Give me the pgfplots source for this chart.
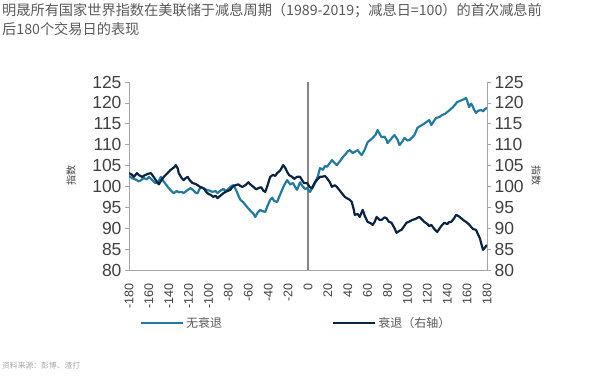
\documentclass[border=0pt]{standalone}
\usepackage{pgfplots}
\pgfplotsset{compat=1.18}
\usepackage{fontspec}
\setmainfont{Liberation Sans}
\newfontfamily\cjk{Noto Sans CJK SC}
\definecolor{lightser}{HTML}{27799B}
\definecolor{darkser}{HTML}{0C2340}
\definecolor{axgray}{HTML}{A6A6A6}
\definecolor{txtgray}{HTML}{404040}
\definecolor{ttlgray}{HTML}{595959}
\begin{document}
\begin{tikzpicture}
\useasboundingbox (0,0) rectangle (600bp,379bp);
\node[anchor=north west, inner sep=0pt, text=ttlgray, align=left, font=\cjk\fontsize{14.2bp}{19bp}\selectfont] at (2bp,376bp)
{明晟所有国家世界指数在美联储于减息周期（1989-2019；减息日=100）的首次减息前\\后180个交易日的表现};
\node[anchor=west, inner sep=0pt, text=gray!70, font=\cjk\fontsize{7.8bp}{9bp}\selectfont] at (2bp,13bp) {资料来源：彭博、渣打};
\pgfplotsset{
  common/.style={
    at={(129bp,109bp)}, anchor=south west,
    scale only axis, width=358bp, height=188bp,
    xmin=-180, xmax=180, ymin=80, ymax=125,
    ytick={80,85,...,125},
    tick align=outside,
    major tick length=4bp,
    every tick/.style={axgray, line width=0.6pt},
    axis line style={axgray, line width=0.8pt},
    /pgf/number format/assume math mode=true,
    yticklabel style={font=\fontsize{17.5bp}{18bp}\selectfont, text=txtgray},
    ylabel style={font=\cjk\fontsize{10bp}{11bp}\selectfont, text=txtgray},
  }
}
\begin{axis}[common,
  axis y line*=left, axis x line*=bottom,
  xtick={-180,-160,...,180},
  x tick style={draw=none},
  xticklabel style={rotate=90, anchor=east, font=\fontsize{12.5bp}{13bp}\selectfont, text=txtgray},
  xticklabel shift=6bp,
  ylabel={指数},
  ylabel style={at={(axis description cs:-0.162,0.5)}, anchor=center},
]
\addplot[color=gray!95, line width=1.6pt, forget plot] coordinates {(0,80) (0,125)};
\addplot[color=lightser, line width=2.2pt, line join=round] coordinates {
(-180,102.5) (-177,102.0) (-173,101.6) (-170,101.2) (-168,101.5) (-165,102.0) (-162,101.7) (-160,102.3)
(-157,101.6) (-154,100.9) (-151,100.8) (-148,102.3) (-146,101.5) (-143,100.5) (-140,99.6) (-137,98.8)
(-135,98.4) (-132,98.9) (-130,98.6) (-127,98.7) (-125,98.4) (-122,99.0) (-120,99.3) (-118,99.6)
(-115,99.0) (-113,98.5) (-111,98.4) (-108,99.9) (-105,99.5) (-102,99.2) (-99,99.0) (-96,98.7)
(-93,98.9) (-91,98.4) (-88,99.0) (-85,99.4) (-83,98.9) (-81,99.2) (-78,99.9) (-75,100.3)
(-72,99.0) (-70,97.8) (-68,96.8) (-65,96.2) (-63,95.6) (-61,95.0) (-58,94.2) (-55,93.5)
(-53,92.7) (-51,93.6) (-48,94.4) (-46,94.1) (-43,93.9) (-41,95.2) (-38,96.8) (-36,97.3)
(-34,96.5) (-31,96.3) (-29,97.5) (-26,99.2) (-24,100.3) (-21,101.5) (-18,100.5) (-15,100.8)
(-13,99.9) (-11,99.2) (-8,101.0) (-6,100.2) (-3,99.4) (-1,99.6) (2,98.7) (4,99.5)
(7,100.8) (10,102.5) (12,104.4) (15,104.0) (17,104.9) (19,104.7) (22,105.6) (24,106.3)
(26,105.8) (29,105.1) (32,106.0) (35,107.0) (38,107.8) (40,108.4) (42,108.7) (45,108.0)
(48,108.4) (50,108.7) (52,108.0) (54,107.5) (57,108.8) (60,110.6) (63,111.2) (65,111.6)
(68,112.4) (70,113.5) (72,112.6) (74,111.8) (77,111.9) (79,111.1) (80,110.4) (83,111.2)
(85,111.8) (87,112.3) (90,111.2) (92,109.9) (95,110.8) (97,111.6) (100,111.0) (102,111.1)
(105,111.8) (107,112.3) (110,114.0) (113,114.5) (116,114.9) (119,115.4) (122,115.9) (124,114.7)
(127,115.8) (129,116.4) (132,116.6) (135,117.1) (138,117.4) (140,117.8) (143,118.4) (145,118.8)
(148,119.6) (150,120.2) (153,120.5) (155,120.7) (157,120.9) (159,121.2) (160,120.5) (162,119.0)
(164,119.8) (165,119.5) (167,118.4) (169,117.6) (171,118.1) (174,118.3) (176,118.0) (178,118.5)
(180,118.8)
};
\end{axis}
\begin{axis}[common,
  axis y line*=right, axis x line=none,
  ylabel={指数},
  ylabel style={at={(axis description cs:1.137,0.5)}, anchor=center, rotate=180},
  legend columns=2,
  legend style={draw=none, fill=none, at={(0.03,-0.282)}, anchor=west,
    font=\cjk\fontsize{12bp}{13bp}\selectfont, text=ttlgray, inner sep=0pt,
    /tikz/every even column/.append style={column sep=108bp}},
  legend image code/.code={\draw[#1, line width=2.2pt] (0bp,0bp) -- (42bp,0bp);},
]
\addlegendimage{color=lightser}
\addlegendentry{无衰退}
\addplot[color=darkser, line width=2.2pt, line join=round] coordinates {
(-180,103.2) (-177,102.8) (-175,102.3) (-172,103.2) (-170,102.7) (-167,102.3) (-164,102.7) (-161,103.0)
(-158,103.2) (-155,102.2) (-153,101.5) (-150,100.5) (-148,101.3) (-145,102.3) (-142,103.0) (-140,103.5)
(-138,104.0) (-135,104.5) (-133,105.1) (-131,104.3) (-130,103.2) (-127,102.0) (-125,101.5) (-123,102.0)
(-121,102.3) (-119,101.5) (-116,100.8) (-113,100.6) (-111,100.3) (-108,99.8) (-105,99.6) (-102,98.6)
(-100,98.2) (-98,98.0) (-95,97.5) (-93,97.8) (-91,97.2) (-88,97.8) (-85,98.4) (-82,98.8)
(-80,99.0) (-78,99.2) (-76,99.9) (-73,100.3) (-70,100.5) (-68,100.1) (-66,99.9) (-63,100.3)
(-60,101.0) (-58,100.5) (-55,99.9) (-52,99.3) (-50,99.6) (-47,99.8) (-45,99.0) (-43,98.7)
(-41,100.0) (-38,102.3) (-35,102.8) (-33,102.5) (-31,103.2) (-28,103.8) (-25,105.1) (-23,104.5)
(-21,103.5) (-19,102.7) (-16,102.3) (-14,101.8) (-11,102.3) (-8,102.3) (-6,101.5) (-4,100.8)
(-1,100.8) (2,99.8) (4,99.6) (7,101.0) (10,101.8) (12,102.3) (14,102.3) (17,102.5)
(19,102.0) (22,101.0) (24,99.9) (27,100.3) (29,99.9) (32,99.0) (34,98.4) (37,97.5)
(39,97.2) (42,96.8) (44,96.3) (46,94.5) (47,93.2) (50,93.4) (52,92.7) (55,94.4)
(57,93.0) (60,91.5) (63,91.2) (65,90.8) (67,91.5) (69,92.7) (72,92.0) (74,92.0)
(77,92.6) (79,92.4) (81,91.6) (84,91.3) (87,90.0) (89,88.9) (92,89.4) (94,89.6)
(97,90.6) (99,91.3) (102,91.6) (105,92.0) (108,92.2) (110,92.5) (112,92.7) (115,92.0)
(117,91.5) (120,91.0) (122,90.5) (124,90.8) (127,89.8) (130,89.1) (133,90.2) (135,90.8)
(137,91.3) (140,91.0) (142,91.5) (144,91.5) (147,92.4) (149,93.2) (152,92.8) (154,92.4)
(157,91.8) (159,91.5) (162,90.9) (164,90.3) (166,89.8) (169,89.6) (171,88.5) (173,87.5)
(174,86.5) (176,84.8) (178,85.4) (180,86.0)
};
\addlegendentry{衰退（右轴）}
\end{axis}
\end{tikzpicture}
\end{document}
